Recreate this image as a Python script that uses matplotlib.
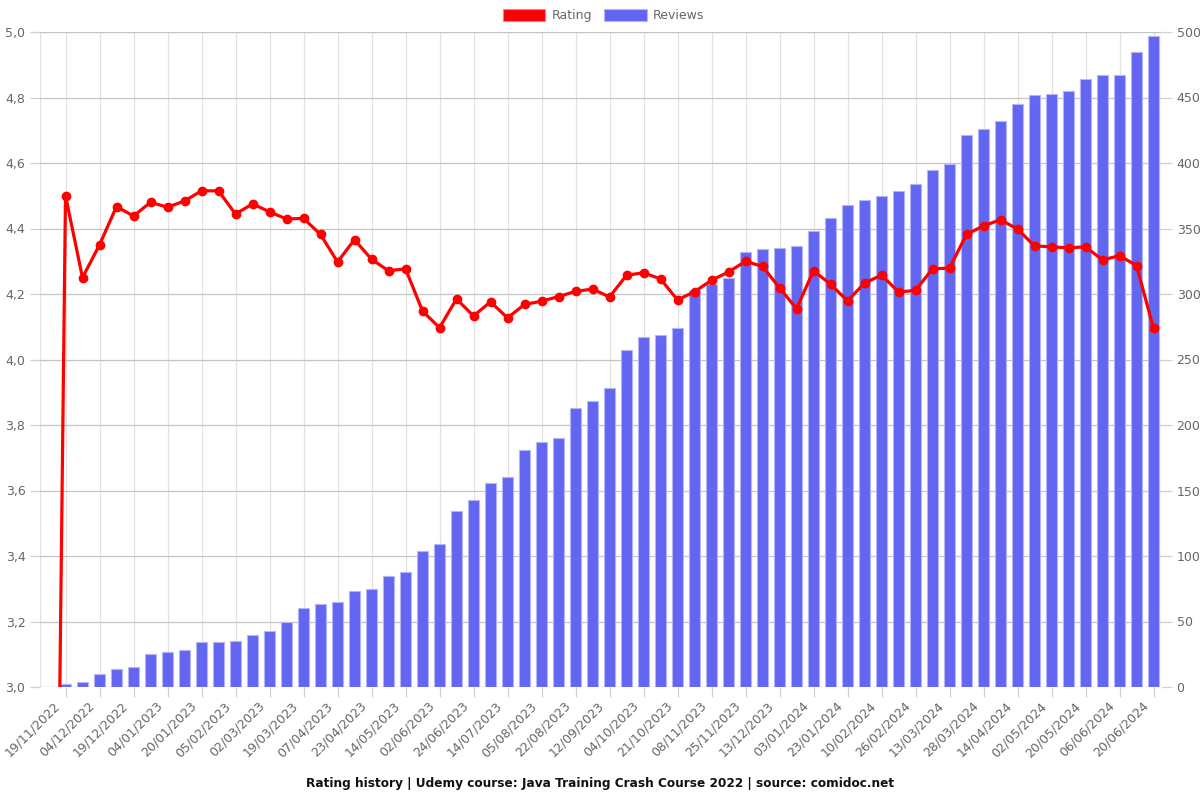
import numpy as np
import matplotlib
matplotlib.use("Agg")
import matplotlib.pyplot as plt
import matplotlib.transforms as mtransforms
from matplotlib.patches import Patch
from matplotlib.ticker import FuncFormatter

tick_labels = ["19/11/2022", "04/12/2022", "19/12/2022", "04/01/2023", "20/01/2023",
               "05/02/2023", "02/03/2023", "19/03/2023", "07/04/2023", "23/04/2023",
               "14/05/2023", "02/06/2023", "24/06/2023", "14/07/2023", "05/08/2023",
               "22/08/2023", "12/09/2023", "04/10/2023", "21/10/2023", "08/11/2023",
               "25/11/2023", "13/12/2023", "03/01/2024", "23/01/2024", "10/02/2024",
               "26/02/2024", "13/03/2024", "28/03/2024", "14/04/2024", "02/05/2024",
               "20/05/2024", "06/06/2024", "20/06/2024"]

# leading entry (rating 0, reviews 0) precedes the first labelled date
rating = [0.0,
          4.50, 4.25, 4.35, 4.467, 4.438, 4.48, 4.465, 4.484, 4.515, 4.515,
          4.444, 4.475, 4.451, 4.429, 4.431, 4.382, 4.298, 4.366, 4.306, 4.271,
          4.277, 4.148, 4.097, 4.185, 4.133, 4.176, 4.127, 4.168, 4.178, 4.192,
          4.208, 4.215, 4.191, 4.257, 4.265, 4.246, 4.182, 4.207, 4.242, 4.267,
          4.300, 4.284, 4.219, 4.155, 4.271, 4.230, 4.179, 4.233, 4.258, 4.206,
          4.211, 4.277, 4.279, 4.382, 4.408, 4.427, 4.398, 4.347, 4.344, 4.341,
          4.344, 4.304, 4.317, 4.287, 4.095]

reviews = [0,
           2, 4, 10, 14, 15, 25, 27, 28, 34, 34,
           35, 40, 43, 50, 60, 63, 65, 73, 75, 85,
           88, 104, 109, 134, 143, 156, 160, 181, 187, 190,
           213, 218, 228, 257, 267, 269, 274, 303, 308, 312,
           332, 334, 335, 337, 348, 358, 368, 372, 375, 379,
           384, 395, 399, 421, 426, 432, 445, 452, 453, 455,
           464, 467, 467, 485, 497]

title = "Rating history | Udemy course: Java Training Crash Course 2022 | source: comidoc.net"

plt.rcParams['font.family'] = ['DejaVu Sans']
TXT = '#666666'
BAR = '#6366f1'
RED = '#ff0000'

x = np.arange(len(rating)) - 1

fig = plt.figure(figsize=(12, 8), dpi=100)
ax1 = fig.add_axes([40/1200, 1-687/800, (1162-40)/1200, (687-32)/800])
ax2 = ax1.twinx()

# bars on right axis
ax2.bar(x, reviews, width=0.64, color=BAR, edgecolor='#b4b6f8', linewidth=0.8, zorder=2)
ax2.set_ylim(0, 500)
ax2.set_yticks(np.arange(0, 501, 50))

# rating line on left axis, drawn on top
ax1.set_zorder(ax2.get_zorder() + 1)
ax1.patch.set_visible(False)
ax1.plot(x, rating, color=RED, linewidth=2.3, solid_joinstyle='miter', zorder=3)
ax1.plot(x[1:], rating[1:], linestyle='none', marker='o', markersize=6,
         color=RED, zorder=4)
ax1.set_ylim(3.0, 5.0)
ax1.set_yticks(np.arange(3.0, 5.01, 0.2))
ax1.yaxis.set_major_formatter(FuncFormatter(lambda v, p: f"{v:.1f}".replace('.', ',')))
ax1.set_xlim(-1.5, len(rating) - 1.5)

tick_pos = np.arange(0, 2 * len(tick_labels), 2)
ax1.set_xticks(tick_pos)
ax1.set_xticklabels(tick_labels, rotation=45, ha='right', rotation_mode='anchor')

# grids
ax2.grid(False)
ax1.grid(False)
for v in tick_pos:
    ax2.axvline(v, color='#e2e2e2', linewidth=0.9, zorder=0)
ax2.axvline(-1.5, color='#e2e2e2', linewidth=0.9, zorder=0)
for v in np.arange(0, 501, 50):
    ax2.axhline(v, color='#c4c4c4', linewidth=0.9, zorder=0)

for a in (ax1, ax2):
    for s in a.spines.values():
        s.set_visible(False)
    a.tick_params(colors='#d0d0d0', labelcolor=TXT, labelsize=9, length=7, width=0.9)
ax1.tick_params(axis='x', pad=2)

offset = mtransforms.ScaledTranslation(-12/100, 0, fig.dpi_scale_trans)
for tk in ax1.xaxis.get_major_ticks():
    tk.label1.set_transform(tk.label1.get_transform() + offset)

handles = [Patch(facecolor=RED, edgecolor='#ff8080', linewidth=0.8),
           Patch(facecolor=BAR, edgecolor='#b4b6f8', linewidth=0.8)]
fig.legend(handles, ['Rating', 'Reviews'], loc='upper center', bbox_to_anchor=(0.503, 1.003),
           ncol=2, frameon=False, fontsize=9, handlelength=3.4, handleheight=1.1,
           columnspacing=1.0, handletextpad=0.5, labelcolor=TXT)

fig.text(0.5, 1 - 783/800, title, ha='center', va='center', fontsize=8.7,
         fontweight='bold', color='#111111')

fig.savefig('out.png', dpi=100)
